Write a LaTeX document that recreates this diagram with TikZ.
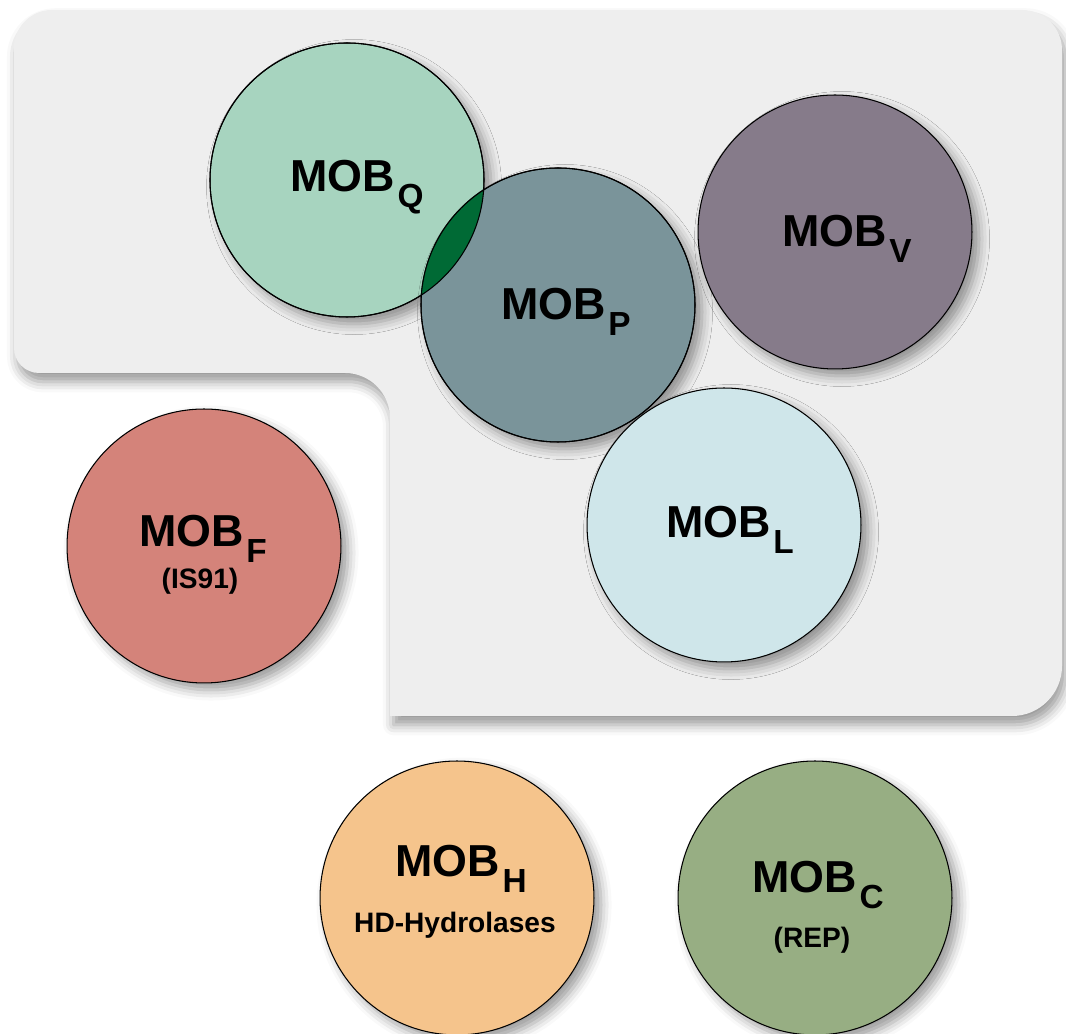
\documentclass[tikz,border=0pt]{standalone}
\usepackage{fontspec}
\setmainfont{Liberation Sans}
\usepackage{tikz}
\usetikzlibrary{shadows.blur}
\definecolor{panelbg}{HTML}{EEEEEE}
\definecolor{mobqfill}{HTML}{A7D4BF}
\definecolor{mobpfill}{HTML}{7A949A}
\definecolor{mobvfill}{HTML}{867B8A}
\definecolor{moblfill}{HTML}{CFE6EA}
\definecolor{mobffill}{HTML}{D4837A}
\definecolor{mobhfill}{HTML}{F5C48C}
\definecolor{mobcfill}{HTML}{97AE83}
\definecolor{lensfill}{HTML}{006A35}
\newcommand{\mobname}[1]{MOB\kern1.5pt\raisebox{-9pt}{\fontsize{19}{22}\selectfont #1}}
\tikzset{
  mobcircle/.style={circle,draw=black,line width=0.6pt,minimum size=5.48cm,inner sep=0pt,
    blur shadow={shadow xshift=4pt,shadow yshift=-4pt,shadow blur radius=6pt,shadow opacity=40}},
  moblabel/.style={anchor=base,inner sep=0pt,font=\bfseries\fontsize{25.5}{30}\selectfont},
  mobnote/.style={anchor=base,inner sep=0pt,font=\bfseries\fontsize{16}{19}\selectfont}
}
\begin{document}
\begin{tikzpicture}[x=0.02cm,y=0.02cm]
  \useasboundingbox (0,0) rectangle (1066,1034);
  \fill[panelbg,blur shadow={shadow xshift=2pt,shadow yshift=-5pt,shadow blur radius=6pt,shadow opacity=40}]
    (14,686) -- (14,986) arc[start angle=180,end angle=90,radius=38]
    -- (1022,1024) arc[start angle=90,end angle=0,radius=40]
    -- (1062,368) arc[start angle=0,end angle=-90,radius=50]
    -- (390,318) -- (390,616) arc[start angle=0,end angle=90,radius=45]
    -- (39,661) arc[start angle=-90,end angle=-180,radius=25] -- cycle;

  \node[mobcircle,fill=mobqfill] (mobq) at (347,854) {};
  \node[mobcircle,fill=mobpfill] (mobp) at (558,729) {};
  \node[mobcircle,fill=mobvfill] (mobv) at (835,802) {};
  \node[mobcircle,fill=moblfill] (mobl) at (724,509) {};
  \node[mobcircle,fill=mobffill] (mobf) at (204,488) {};
  \node[mobcircle,fill=mobhfill] (mobh) at (457,136) {};
  \node[mobcircle,fill=mobcfill] (mobc) at (815,136) {};

  \begin{scope}
    \clip (mobq.center) circle[radius=137];
    \fill[lensfill] (mobp.center) circle[radius=137];
  \end{scope}
  \draw[line width=0.6pt] (mobq.center) circle[radius=137] (mobp.center) circle[radius=137];

  \node[moblabel] (labq) at (357,842) {\mobname{Q}};
  \node[moblabel] (labp) at (566,714) {\mobname{P}};
  \node[moblabel] (labv) at (847,787) {\mobname{V}};
  \node[moblabel] (labl) at (730,496) {\mobname{L}};
  \node[moblabel] (labf) at (203,487) {\mobname{F}};
  \node[mobnote] (notef) at (200,445) {(IS91)};
  \node[moblabel] (labh) at (461,157) {\mobname{H}};
  \node[mobnote] (noteh) at (455,101) {HD-Hydrolases};
  \node[moblabel] (labc) at (818,141) {\mobname{C}};
  \node[mobnote] (notec) at (812,86) {(REP)};
\end{tikzpicture}
\end{document}
